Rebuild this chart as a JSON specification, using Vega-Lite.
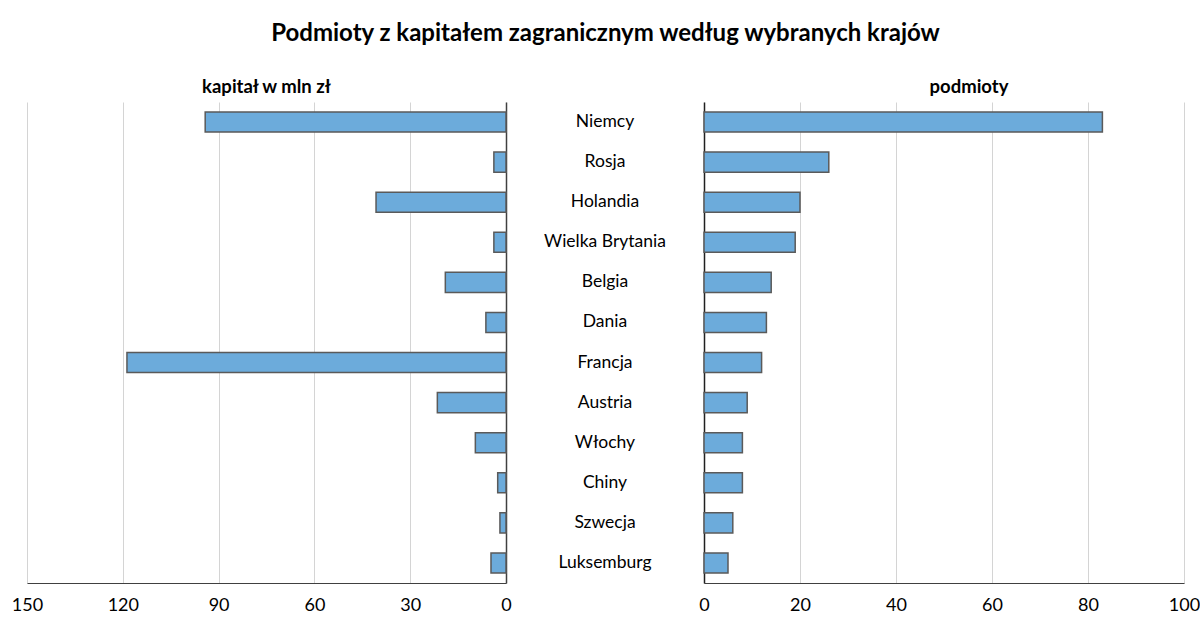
{
  "$schema": "https://vega.github.io/schema/vega-lite/v6.json",
  "padding": {"left": 11, "top": 21, "right": 5, "bottom": 5},
  "background": "white",
  "title": {"text": "Podmioty z kapitałem zagranicznym według wybranych krajów", "font": "Lato", "fontSize": 24, "fontWeight": "bold", "color": "black", "anchor": "middle", "offset": 32},
  "data": {"values": [
    {"kraj": "Niemcy", "kapital": 94.2, "podmioty": 83},
    {"kraj": "Rosja", "kapital": 3.8, "podmioty": 26},
    {"kraj": "Holandia", "kapital": 40.7, "podmioty": 20},
    {"kraj": "Wielka Brytania", "kapital": 3.8, "podmioty": 19},
    {"kraj": "Belgia", "kapital": 19.0, "podmioty": 14},
    {"kraj": "Dania", "kapital": 6.3, "podmioty": 13},
    {"kraj": "Francja", "kapital": 118.7, "podmioty": 12},
    {"kraj": "Austria", "kapital": 21.5, "podmioty": 9},
    {"kraj": "Włochy", "kapital": 9.6, "podmioty": 8},
    {"kraj": "Chiny", "kapital": 2.6, "podmioty": 8},
    {"kraj": "Szwecja", "kapital": 1.9, "podmioty": 6},
    {"kraj": "Luksemburg", "kapital": 4.7, "podmioty": 5}
  ]},
  "spacing": 0,
  "bounds": "flush",
  "hconcat": [
    {
      "width": 479,
      "height": 481,
      "title": {"text": "kapitał w mln zł", "font": "Lato", "fontSize": 18.5, "fontWeight": "bold", "color": "black", "anchor": "middle", "offset": 6},
      "mark": {"type": "bar", "fill": "#6CABDB", "stroke": "#5A5A5A", "strokeWidth": 1.5},
      "encoding": {
        "y": {"field": "kraj", "type": "nominal", "sort": null, "scale": {"paddingInner": 0.5, "paddingOuter": 0.25},
              "axis": {"orient": "right", "title": null, "labels": false, "ticks": false, "domain": true, "domainColor": "#404040", "domainWidth": 1.5}},
        "x": {"field": "kapital", "type": "quantitative", "scale": {"domain": [0, 150], "reverse": true, "nice": false},
              "axis": {"title": null, "values": [0, 30, 60, 90, 120, 150], "grid": true, "ticks": false, "labelPadding": 13, "labelFlush": false, "labelOverlap": false, "domainColor": "#404040", "domainWidth": 1.2}}
      }
    },
    {
      "width": 198,
      "height": 481,
      "mark": {"type": "text", "font": "Lato", "fontSize": 17.5, "color": "black", "baseline": "middle", "align": "center"},
      "encoding": {
        "y": {"field": "kraj", "type": "nominal", "sort": null, "scale": {"paddingInner": 0.5, "paddingOuter": 0.25}, "axis": null},
        "text": {"field": "kraj", "type": "nominal"}
      }
    },
    {
      "width": 480,
      "height": 481,
      "title": {"text": "podmioty", "font": "Lato", "fontSize": 18.5, "fontWeight": "bold", "color": "black", "anchor": "middle", "offset": 6, "dx": 25},
      "mark": {"type": "bar", "fill": "#6CABDB", "stroke": "#5A5A5A", "strokeWidth": 1.5},
      "encoding": {
        "y": {"field": "kraj", "type": "nominal", "sort": null, "scale": {"paddingInner": 0.5, "paddingOuter": 0.25},
              "axis": {"orient": "left", "title": null, "labels": false, "ticks": false, "domain": true, "domainColor": "#202020", "domainWidth": 1.5}},
        "x": {"field": "podmioty", "type": "quantitative", "scale": {"domain": [0, 100], "nice": false},
              "axis": {"title": null, "values": [0, 20, 40, 60, 80, 100], "grid": true, "ticks": false, "labelPadding": 13, "labelFlush": false, "labelOverlap": false, "domainColor": "#404040", "domainWidth": 1.2}}
      }
    }
  ],
  "resolve": {"scale": {"y": "independent"}},
  "config": {
    "view": {"stroke": null},
    "axis": {"labelFont": "Lato", "labelFontSize": 18, "labelColor": "black", "gridColor": "#D4D4D4", "gridWidth": 1}
  }
}
